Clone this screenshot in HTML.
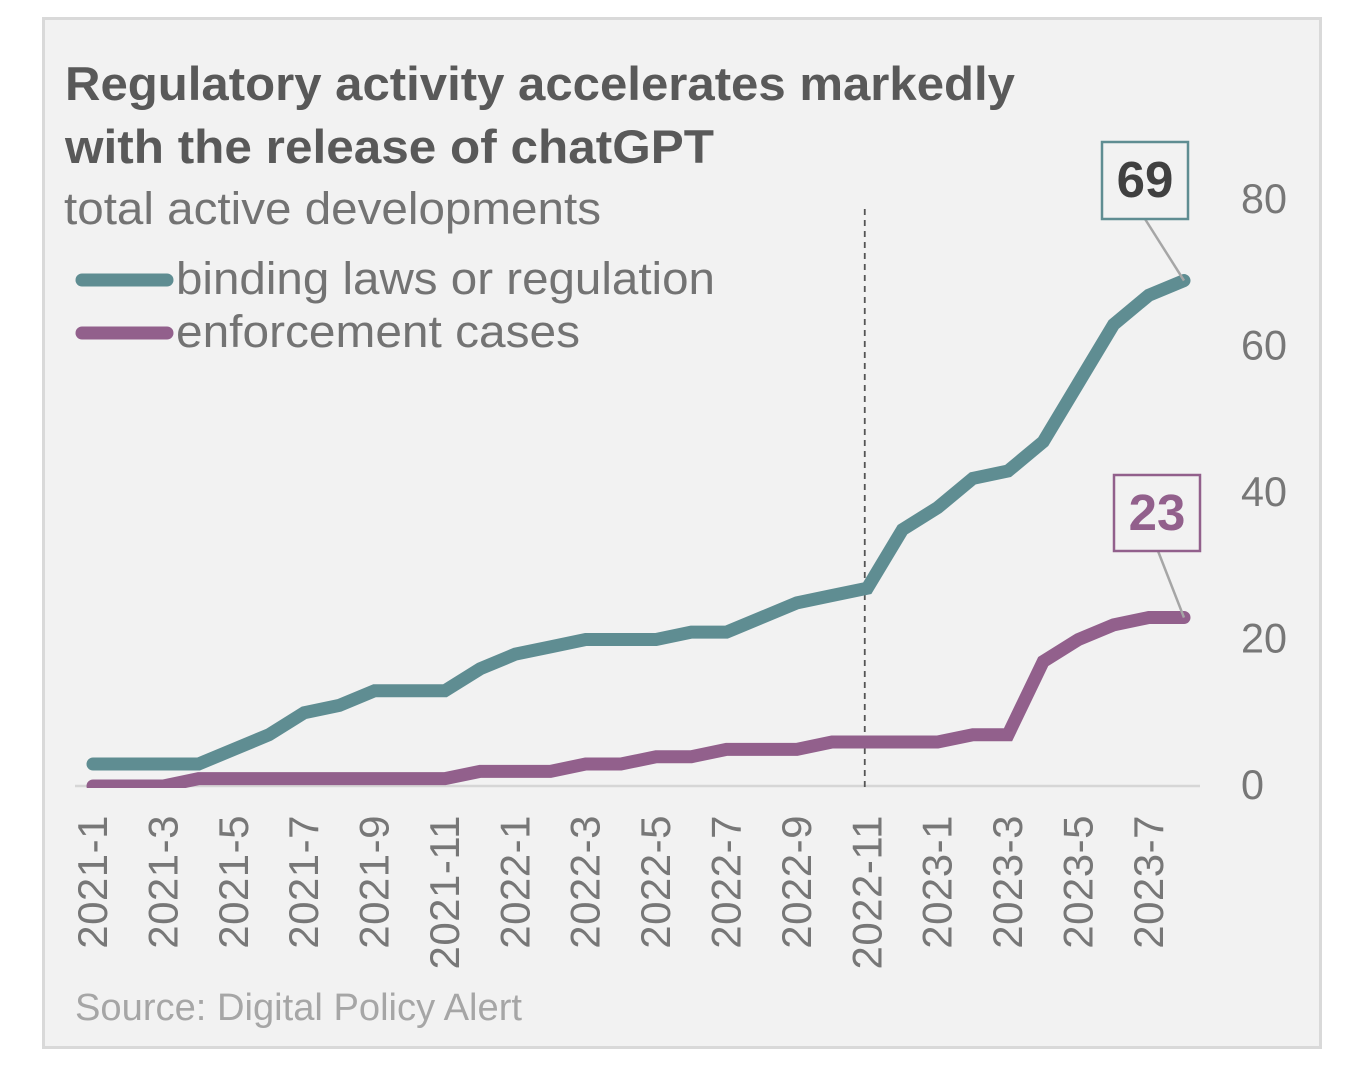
<!DOCTYPE html>
<html lang="en">
<head>
<meta charset="utf-8">
<title>Regulatory activity accelerates markedly</title>
<style>
  html, body { margin: 0; padding: 0; background: #ffffff; }
  svg { display: block; font-family: "Liberation Sans", sans-serif; }
</style>
</head>
<body>
<svg id="chart" width="1360" height="1082" viewBox="0 0 1360 1082" xmlns="http://www.w3.org/2000/svg">
  <defs>
    <clipPath id="plot-clip"><rect x="0" y="0" width="1360" height="788"/></clipPath>
  </defs>
  <rect x="43.5" y="18.5" width="1277" height="1029" fill="#f2f2f2" stroke="#d9d9d9" stroke-width="3"/>
  <text x="65" y="100" font-size="47" font-weight="700" fill="#595959" textLength="950" lengthAdjust="spacingAndGlyphs">Regulatory activity accelerates markedly</text>
  <text x="65" y="163" font-size="47" font-weight="700" fill="#595959" textLength="649" lengthAdjust="spacingAndGlyphs">with the release of chatGPT</text>
  <text x="64" y="224" font-size="45" fill="#737373" textLength="537" lengthAdjust="spacingAndGlyphs">total active developments</text>
  <line x1="82" y1="280" x2="167" y2="280" stroke="#5f8d92" stroke-width="13" stroke-linecap="round"/>
  <text x="176" y="294" font-size="45" fill="#737373" textLength="539" lengthAdjust="spacingAndGlyphs">binding laws or regulation</text>
  <line x1="82" y1="333" x2="167" y2="333" stroke="#92608c" stroke-width="13" stroke-linecap="round"/>
  <text x="176" y="347" font-size="45" fill="#737373" textLength="404" lengthAdjust="spacingAndGlyphs">enforcement cases</text>
  <text x="75" y="1020" font-size="38" fill="#a6a6a6" textLength="447" lengthAdjust="spacingAndGlyphs">Source: Digital Policy Alert</text>
  <g id="plot"></g>
</svg>
<script>
const months = ["2021-1","2021-2","2021-3","2021-4","2021-5","2021-6","2021-7","2021-8","2021-9","2021-10","2021-11","2021-12","2022-1","2022-2","2022-3","2022-4","2022-5","2022-6","2022-7","2022-8","2022-9","2022-10","2022-11","2022-12","2023-1","2023-2","2023-3","2023-4","2023-5","2023-6","2023-7","2023-8"];
const bindingLaws = [3,3,3,3,5,7,10,11,13,13,13,16,18,19,20,20,20,21,21,23,25,26,27,35,38,42,43,47,55,63,67,69];
const enforcementCases = [0,0,0,1,1,1,1,1,1,1,1,2,2,2,3,3,4,4,5,5,5,6,6,6,6,7,7,17,20,22,23,23];
const yTicks = [0,20,40,60,80];
const xTickLabels = ["2021-1","2021-3","2021-5","2021-7","2021-9","2021-11","2022-1","2022-3","2022-5","2022-7","2022-9","2022-11","2023-1","2023-3","2023-5","2023-7"];
const markerMonth = "2022-11";

const NS = "http://www.w3.org/2000/svg";
const plot = document.getElementById("plot");
const xScale = i => 93 + i * (1184 - 93) / (months.length - 1);
const yScale = v => 786 - v * (786 - 200) / 80;

function make(tag, attrs, text) {
  const el = document.createElementNS(NS, tag);
  for (const k in attrs) el.setAttribute(k, attrs[k]);
  if (text !== undefined) el.textContent = text;
  plot.appendChild(el);
  return el;
}

const baseline = make("line", {x1: 75, x2: 1200, y1: yScale(0), y2: yScale(0), stroke: "#d6d6d6", "stroke-width": 2.5});



const mx = xScale(months.indexOf(markerMonth));
const marker = make("line", {x1: mx - 2.5, x2: mx - 2.5, y1: 209, y2: 792, stroke: "#555555", "stroke-width": 1.8, "stroke-dasharray": "6 5"});



yTicks.forEach(t => {
  const label = make("text", {x: 1241, y: yScale(t) + 13, "font-size": 42, fill: "#777777", textLength: t === 0 ? 23 : 46, lengthAdjust: "spacingAndGlyphs"}, String(t));
  
  
});

xTickLabels.forEach(t => {
  const x = xScale(months.indexOf(t)) + 14;
  const label = make("text", {transform: "translate(" + x + ",815) rotate(-90)", "text-anchor": "end", "font-size": 42, "letter-spacing": 0.5, fill: "#777777"}, t);
  
  
});

function points(values) {
  return values.map((v, i) => xScale(i) + "," + yScale(v)).join(" ");
}

const lineEnforcement = make("polyline", {points: points(enforcementCases), fill: "none", stroke: "#92608c", "stroke-width": 13, "stroke-linecap": "round", "stroke-linejoin": "miter", "clip-path": "url(#plot-clip)"});



const lineBinding = make("polyline", {points: points(bindingLaws), fill: "none", stroke: "#5f8d92", "stroke-width": 13, "stroke-linecap": "round", "stroke-linejoin": "miter"});



const last = months.length - 1;
const bindingLast = bindingLaws[last];
const enforcementLast = enforcementCases[last];

const leaderBinding = make("line", {x1: 1145, y1: 219, x2: xScale(last), y2: yScale(bindingLast), stroke: "#a6a6a6", "stroke-width": 2.5});



const boxBinding = make("rect", {x: 1102, y: 142, width: 86, height: 77, fill: "#f2f2f2", stroke: "#5f8d92", "stroke-width": 2.5});



const valueBinding = make("text", {x: 1145, y: 197, "text-anchor": "middle", "font-size": 51, "font-weight": 700, fill: "#404040"}, String(bindingLast));



const leaderEnforcement = make("line", {x1: 1158, y1: 551, x2: xScale(last), y2: yScale(enforcementLast), stroke: "#a6a6a6", "stroke-width": 2.5});



const boxEnforcement = make("rect", {x: 1114, y: 475, width: 86, height: 76, fill: "#f2f2f2", stroke: "#92608c", "stroke-width": 2.5});



const valueEnforcement = make("text", {x: 1157, y: 530, "text-anchor": "middle", "font-size": 51, "font-weight": 700, fill: "#92608c"}, String(enforcementLast));


</script>
</body>
</html>
